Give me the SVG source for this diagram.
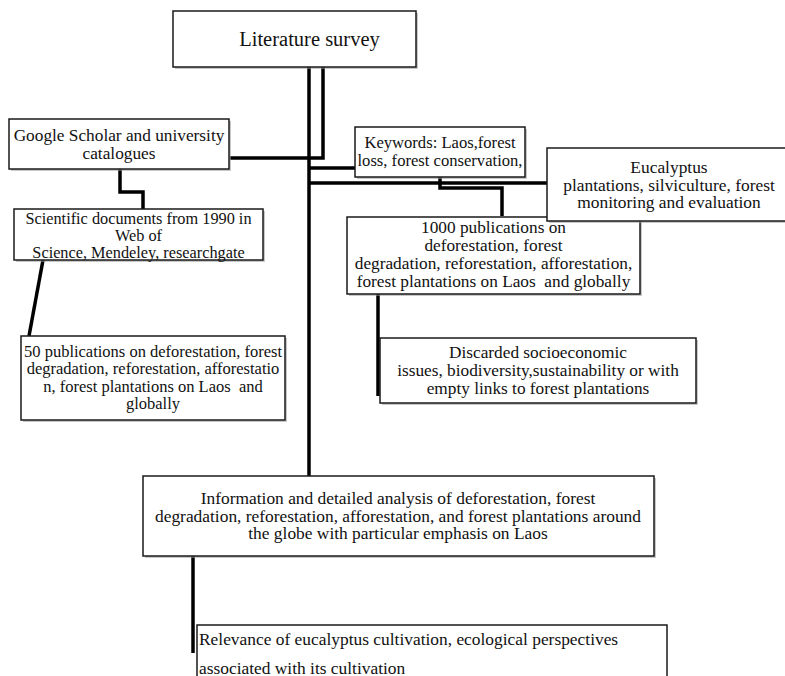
<svg xmlns="http://www.w3.org/2000/svg" width="785" height="676" viewBox="0 0 785 676">
<style>
  .box { fill: #ffffff; stroke: #1a1a1a; stroke-width: 1.5; }
  .sh { fill: #9a9a9a; opacity: 0.55; }
  .t { font-family: "Liberation Serif", "Times New Roman", serif; fill: #111111; text-anchor: middle; white-space: pre; }
  .tl { font-family: "Liberation Serif", "Times New Roman", serif; fill: #111111; text-anchor: start; white-space: pre; }
  .c { fill: none; stroke: #000000; stroke-width: 3.5; stroke-linejoin: miter; stroke-linecap: butt; }
</style>
<rect x="0" y="0" width="785" height="676" fill="#ffffff"/>

<g id="connectors">
  <path class="c" d="M309 67 V476"/>
  <path class="c" d="M323 67 V158 H230"/>
  <path class="c" d="M309 168 H355"/>
  <path class="c" d="M309 183 H547"/>
  <path class="c" d="M120 169 V192 H143 V209"/>
  <path class="c" d="M43 260 L29 336"/>
  <path class="c" d="M440 177 V188 H502 V216"/>
  <path class="c" d="M378 294 V396"/>
  <path class="c" d="M193 556 V653"/>
</g>

<g id="literature-survey">
  <rect class="sh" x="175" y="13" width="243" height="56"/>
  <rect class="box" x="173" y="11" width="243" height="56"/>
  <text class="t" x="309.5" y="46" font-size="20.5">Literature survey</text>
</g>

<g id="google-scholar">
  <rect class="sh" x="11" y="121" width="220" height="50"/>
  <rect class="box" x="9" y="119" width="220" height="50"/>
  <text class="t" x="119" y="141" font-size="17.3">Google Scholar and university</text>
  <text class="t" x="119" y="159" font-size="17.3">catalogues</text>
</g>

<g id="scientific-documents">
  <rect class="sh" x="16" y="211" width="249" height="51"/>
  <rect class="box" x="14" y="209" width="249" height="51"/>
  <text class="t" x="138.5" y="224" font-size="16.3">Scientific documents from 1990 in</text>
  <text class="t" x="138.5" y="241" font-size="16.3">Web of</text>
  <text class="t" x="138.5" y="258" font-size="16.3">Science, Mendeley, researchgate</text>
</g>

<g id="fifty-publications">
  <rect class="sh" x="23" y="338" width="264" height="84"/>
  <rect class="box" x="21" y="336" width="264" height="84"/>
  <text class="t" x="153" y="357" font-size="16.5">50 publications on deforestation, forest</text>
  <text class="t" x="153" y="374" font-size="16.5">degradation, reforestation, afforestatio</text>
  <text class="t" x="153" y="392" font-size="16.5">n, forest plantations on Laos  and</text>
  <text class="t" x="153" y="409" font-size="16.5">globally</text>
</g>

<g id="keywords">
  <rect class="sh" x="357" y="129" width="170" height="50"/>
  <rect class="box" x="355" y="127" width="170" height="50"/>
  <text class="t" x="440" y="148" font-size="16.6">Keywords: Laos,forest</text>
  <text class="t" x="440" y="166" font-size="16.6">loss, forest conservation,</text>
</g>

<g id="thousand-publications">
  <rect class="sh" x="349" y="219" width="293" height="77"/>
  <rect class="box" x="347" y="217" width="293" height="77"/>
  <text class="t" x="493.5" y="233" font-size="17.3">1000 publications on</text>
  <text class="t" x="493.5" y="251" font-size="17.3">deforestation, forest</text>
  <text class="t" x="493.5" y="269" font-size="17.3">degradation, reforestation, afforestation,</text>
  <text class="t" x="493.5" y="287" font-size="17.3">forest plantations on Laos  and globally</text>
</g>

<g id="eucalyptus">
  <rect class="sh" x="549" y="150" width="245" height="73"/>
  <rect class="box" x="547" y="148" width="245" height="73"/>
  <text class="t" x="669" y="173" font-size="17.4">Eucalyptus</text>
  <text class="t" x="669" y="191" font-size="17.4">plantations, silviculture, forest</text>
  <text class="t" x="669" y="208" font-size="17.4">monitoring and evaluation</text>
</g>

<g id="discarded">
  <rect class="sh" x="382" y="340" width="316" height="65"/>
  <rect class="box" x="380" y="338" width="316" height="65"/>
  <text class="t" x="538" y="358" font-size="17.3">Discarded socioeconomic</text>
  <text class="t" x="538" y="376" font-size="17.3">issues, biodiversity,sustainability or with</text>
  <text class="t" x="538" y="394" font-size="17.3">empty links to forest plantations</text>
</g>

<g id="information-analysis">
  <rect class="sh" x="145" y="478" width="511" height="80"/>
  <rect class="box" x="143" y="476" width="511" height="80"/>
  <text class="t" x="398" y="504" font-size="17.4">Information and detailed analysis of deforestation, forest</text>
  <text class="t" x="398" y="522" font-size="17.4">degradation, reforestation, afforestation, and forest plantations around</text>
  <text class="t" x="398" y="539" font-size="17.4">the globe with particular emphasis on Laos</text>
</g>

<g id="relevance">
  <rect class="box" x="197" y="625" width="470" height="70"/>
  <text class="tl" x="199" y="645" font-size="17.4">Relevance of eucalyptus cultivation, ecological perspectives</text>
  <text class="tl" x="199" y="674" font-size="17.4">associated with its cultivation</text>
</g>
</svg>
